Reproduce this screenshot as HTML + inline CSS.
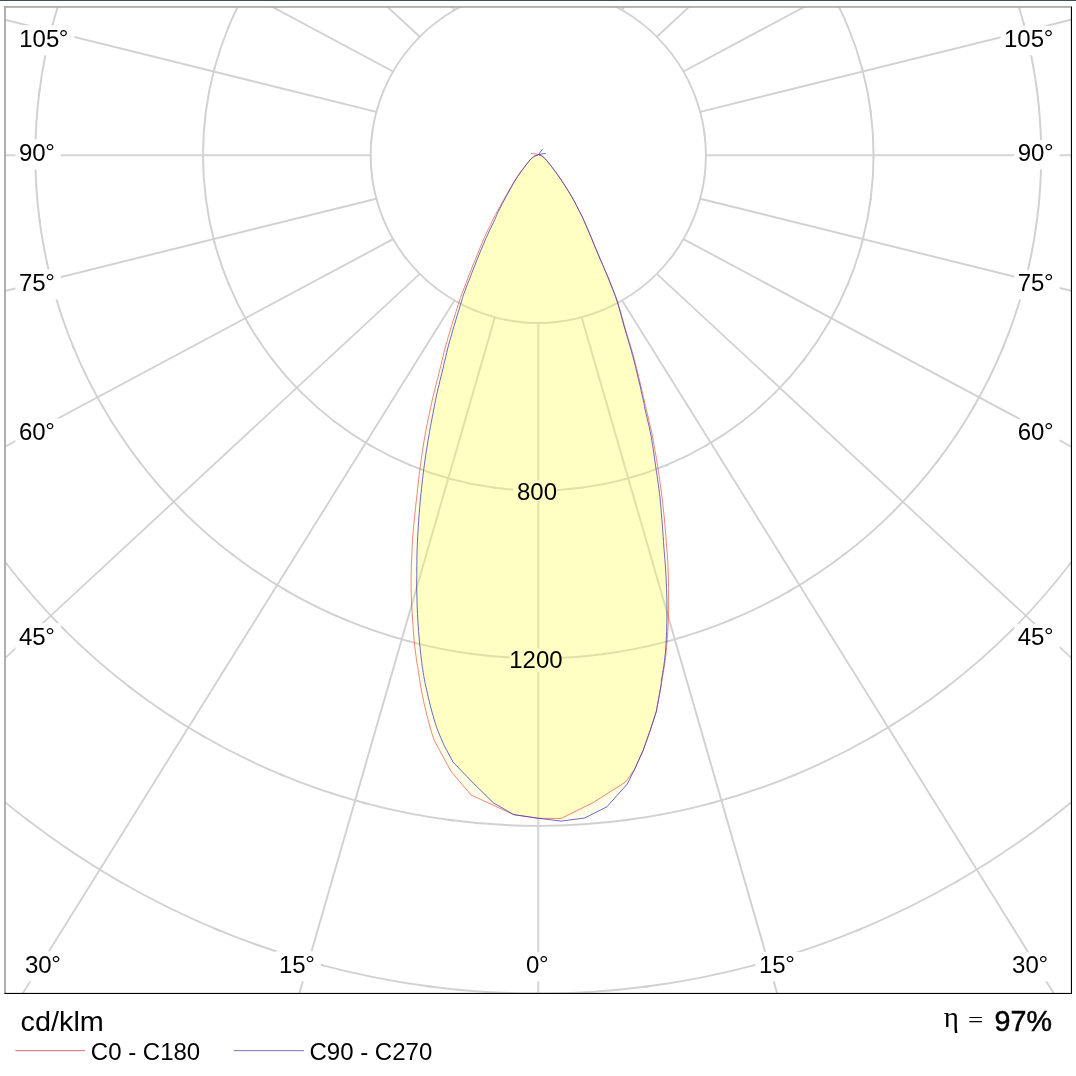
<!DOCTYPE html>
<html lang="en"><head><meta charset="utf-8"><title>Polar diagram</title>
<style>html,body{margin:0;padding:0;background:#fff;}body{width:1076px;height:1076px;overflow:hidden;position:relative;font-family:"Liberation Sans",Arial,sans-serif;}svg{position:absolute;left:0;top:0;display:block;}text{font-family:"Liberation Sans",Arial,sans-serif;fill:#000;}.s{font-family:"Liberation Serif","DejaVu Serif",serif;}</style>
</head><body>
<svg width="1076" height="1076" viewBox="0 0 1076 1076">
<defs><clipPath id="fr"><rect x="5" y="7" width="1066" height="986"/></clipPath></defs>
<rect x="0" y="0" width="1076" height="1076" fill="#fff"/>
<rect x="0" y="0" width="1076" height="1" fill="#3a5252"/>
<g clip-path="url(#fr)" fill="none" stroke="#d1d1d1">
<path d="M705.93,154.63A167.65,167.65 0 0 1 704.41,177.85" stroke-width="1.95"/>
<path d="M704.58,176.52A167.65,167.65 0 0 1 700.04,199.34" stroke-width="1.93"/>
<path d="M700.39,198.04A167.65,167.65 0 0 1 692.91,220.08" stroke-width="1.91"/>
<path d="M693.42,218.84A167.65,167.65 0 0 1 683.13,239.71" stroke-width="1.87"/>
<path d="M683.80,238.54A167.65,167.65 0 0 1 670.88,257.89" stroke-width="1.83"/>
<path d="M671.69,256.83A167.65,167.65 0 0 1 656.35,274.32" stroke-width="1.78"/>
<path d="M657.30,273.37A167.65,167.65 0 0 1 639.81,288.71" stroke-width="1.78"/>
<path d="M640.87,287.90A167.65,167.65 0 0 1 621.52,300.82" stroke-width="1.83"/>
<path d="M622.69,300.15A167.65,167.65 0 0 1 601.82,310.44" stroke-width="1.87"/>
<path d="M603.06,309.93A167.65,167.65 0 0 1 581.02,317.41" stroke-width="1.91"/>
<path d="M582.32,317.06A167.65,167.65 0 0 1 559.50,321.60" stroke-width="1.93"/>
<path d="M560.83,321.43A167.65,167.65 0 0 1 537.61,322.95" stroke-width="1.95"/>
<path d="M538.95,322.95A167.65,167.65 0 0 1 515.73,321.43" stroke-width="1.95"/>
<path d="M517.06,321.60A167.65,167.65 0 0 1 494.24,317.06" stroke-width="1.93"/>
<path d="M495.54,317.41A167.65,167.65 0 0 1 473.50,309.93" stroke-width="1.91"/>
<path d="M474.74,310.44A167.65,167.65 0 0 1 453.87,300.15" stroke-width="1.87"/>
<path d="M455.04,300.82A167.65,167.65 0 0 1 435.69,287.90" stroke-width="1.83"/>
<path d="M436.75,288.71A167.65,167.65 0 0 1 419.26,273.37" stroke-width="1.78"/>
<path d="M420.21,274.32A167.65,167.65 0 0 1 404.87,256.83" stroke-width="1.78"/>
<path d="M405.68,257.89A167.65,167.65 0 0 1 392.76,238.54" stroke-width="1.83"/>
<path d="M393.43,239.71A167.65,167.65 0 0 1 383.14,218.84" stroke-width="1.87"/>
<path d="M383.65,220.08A167.65,167.65 0 0 1 376.17,198.04" stroke-width="1.91"/>
<path d="M376.52,199.34A167.65,167.65 0 0 1 371.98,176.52" stroke-width="1.93"/>
<path d="M372.15,177.85A167.65,167.65 0 0 1 370.63,154.63" stroke-width="1.95"/>
<path d="M370.63,155.97A167.65,167.65 0 0 1 372.15,132.75" stroke-width="1.95"/>
<path d="M371.98,134.08A167.65,167.65 0 0 1 376.52,111.26" stroke-width="1.93"/>
<path d="M376.17,112.56A167.65,167.65 0 0 1 383.65,90.52" stroke-width="1.91"/>
<path d="M383.14,91.76A167.65,167.65 0 0 1 393.43,70.89" stroke-width="1.87"/>
<path d="M392.76,72.06A167.65,167.65 0 0 1 405.68,52.71" stroke-width="1.83"/>
<path d="M404.87,53.77A167.65,167.65 0 0 1 420.21,36.28" stroke-width="1.78"/>
<path d="M419.26,37.23A167.65,167.65 0 0 1 436.75,21.89" stroke-width="1.78"/>
<path d="M435.69,22.70A167.65,167.65 0 0 1 455.04,9.78" stroke-width="1.83"/>
<path d="M453.87,10.45A167.65,167.65 0 0 1 474.74,0.16" stroke-width="1.87"/>
<path d="M601.82,0.16A167.65,167.65 0 0 1 622.69,10.45" stroke-width="1.87"/>
<path d="M621.52,9.78A167.65,167.65 0 0 1 640.87,22.70" stroke-width="1.83"/>
<path d="M639.81,21.89A167.65,167.65 0 0 1 657.30,37.23" stroke-width="1.78"/>
<path d="M656.35,36.28A167.65,167.65 0 0 1 671.69,53.77" stroke-width="1.78"/>
<path d="M670.88,52.71A167.65,167.65 0 0 1 683.80,72.06" stroke-width="1.83"/>
<path d="M683.13,70.89A167.65,167.65 0 0 1 693.42,91.76" stroke-width="1.87"/>
<path d="M692.91,90.52A167.65,167.65 0 0 1 700.39,112.56" stroke-width="1.91"/>
<path d="M700.04,111.26A167.65,167.65 0 0 1 704.58,134.08" stroke-width="1.93"/>
<path d="M704.41,132.75A167.65,167.65 0 0 1 705.93,155.97" stroke-width="1.95"/>
<path d="M873.58,153.96A335.30,335.30 0 0 1 870.53,200.39" stroke-width="1.95"/>
<path d="M870.88,197.74A335.30,335.30 0 0 1 861.81,243.38" stroke-width="1.93"/>
<path d="M862.50,240.79A335.30,335.30 0 0 1 847.54,284.85" stroke-width="1.91"/>
<path d="M848.57,282.37A335.30,335.30 0 0 1 827.99,324.11" stroke-width="1.87"/>
<path d="M829.33,321.79A335.30,335.30 0 0 1 803.47,360.48" stroke-width="1.83"/>
<path d="M805.11,358.35A335.30,335.30 0 0 1 774.42,393.34" stroke-width="1.78"/>
<path d="M776.32,391.44A335.30,335.30 0 0 1 741.33,422.13" stroke-width="1.78"/>
<path d="M743.46,420.49A335.30,335.30 0 0 1 704.77,446.35" stroke-width="1.83"/>
<path d="M707.09,445.01A335.30,335.30 0 0 1 665.35,465.59" stroke-width="1.87"/>
<path d="M667.83,464.56A335.30,335.30 0 0 1 623.77,479.52" stroke-width="1.91"/>
<path d="M626.36,478.83A335.30,335.30 0 0 1 580.72,487.90" stroke-width="1.93"/>
<path d="M583.37,487.55A335.30,335.30 0 0 1 536.94,490.60" stroke-width="1.95"/>
<path d="M539.62,490.60A335.30,335.30 0 0 1 493.19,487.55" stroke-width="1.95"/>
<path d="M495.84,487.90A335.30,335.30 0 0 1 450.20,478.83" stroke-width="1.93"/>
<path d="M452.79,479.52A335.30,335.30 0 0 1 408.73,464.56" stroke-width="1.91"/>
<path d="M411.21,465.59A335.30,335.30 0 0 1 369.47,445.01" stroke-width="1.87"/>
<path d="M371.79,446.35A335.30,335.30 0 0 1 333.10,420.49" stroke-width="1.83"/>
<path d="M335.23,422.13A335.30,335.30 0 0 1 300.24,391.44" stroke-width="1.78"/>
<path d="M302.14,393.34A335.30,335.30 0 0 1 271.45,358.35" stroke-width="1.78"/>
<path d="M273.09,360.48A335.30,335.30 0 0 1 247.23,321.79" stroke-width="1.83"/>
<path d="M248.57,324.11A335.30,335.30 0 0 1 227.99,282.37" stroke-width="1.87"/>
<path d="M229.02,284.85A335.30,335.30 0 0 1 214.06,240.79" stroke-width="1.91"/>
<path d="M214.75,243.38A335.30,335.30 0 0 1 205.68,197.74" stroke-width="1.93"/>
<path d="M206.03,200.39A335.30,335.30 0 0 1 202.98,153.96" stroke-width="1.95"/>
<path d="M202.98,156.64A335.30,335.30 0 0 1 206.03,110.21" stroke-width="1.95"/>
<path d="M205.68,112.86A335.30,335.30 0 0 1 214.75,67.22" stroke-width="1.93"/>
<path d="M214.06,69.81A335.30,335.30 0 0 1 229.02,25.75" stroke-width="1.91"/>
<path d="M227.99,28.23A335.30,335.30 0 0 1 248.57,-13.51" stroke-width="1.87"/>
<path d="M827.99,-13.51A335.30,335.30 0 0 1 848.57,28.23" stroke-width="1.87"/>
<path d="M847.54,25.75A335.30,335.30 0 0 1 862.50,69.81" stroke-width="1.91"/>
<path d="M861.81,67.22A335.30,335.30 0 0 1 870.88,112.86" stroke-width="1.93"/>
<path d="M870.53,110.21A335.30,335.30 0 0 1 873.58,156.64" stroke-width="1.95"/>
<path d="M1041.23,153.29A502.95,502.95 0 0 1 1036.66,222.94" stroke-width="1.95"/>
<path d="M1037.19,218.95A502.95,502.95 0 0 1 1023.57,287.42" stroke-width="1.93"/>
<path d="M1024.61,283.53A502.95,502.95 0 0 1 1002.17,349.63" stroke-width="1.91"/>
<path d="M1003.71,345.91A502.95,502.95 0 0 1 972.84,408.52" stroke-width="1.87"/>
<path d="M974.85,405.03A502.95,502.95 0 0 1 936.07,463.07" stroke-width="1.83"/>
<path d="M938.52,459.88A502.95,502.95 0 0 1 892.49,512.36" stroke-width="1.78"/>
<path d="M895.34,509.51A502.95,502.95 0 0 1 842.86,555.54" stroke-width="1.78"/>
<path d="M846.05,553.09A502.95,502.95 0 0 1 788.01,591.87" stroke-width="1.83"/>
<path d="M791.50,589.86A502.95,502.95 0 0 1 728.89,620.73" stroke-width="1.87"/>
<path d="M732.61,619.19A502.95,502.95 0 0 1 666.51,641.63" stroke-width="1.91"/>
<path d="M670.40,640.59A502.95,502.95 0 0 1 601.93,654.21" stroke-width="1.93"/>
<path d="M605.92,653.68A502.95,502.95 0 0 1 536.27,658.25" stroke-width="1.95"/>
<path d="M540.29,658.25A502.95,502.95 0 0 1 470.64,653.68" stroke-width="1.95"/>
<path d="M474.63,654.21A502.95,502.95 0 0 1 406.16,640.59" stroke-width="1.93"/>
<path d="M410.05,641.63A502.95,502.95 0 0 1 343.95,619.19" stroke-width="1.91"/>
<path d="M347.67,620.73A502.95,502.95 0 0 1 285.06,589.86" stroke-width="1.87"/>
<path d="M288.55,591.87A502.95,502.95 0 0 1 230.51,553.09" stroke-width="1.83"/>
<path d="M233.70,555.54A502.95,502.95 0 0 1 181.22,509.51" stroke-width="1.78"/>
<path d="M184.07,512.36A502.95,502.95 0 0 1 138.04,459.88" stroke-width="1.78"/>
<path d="M140.49,463.07A502.95,502.95 0 0 1 101.71,405.03" stroke-width="1.83"/>
<path d="M103.72,408.52A502.95,502.95 0 0 1 72.85,345.91" stroke-width="1.87"/>
<path d="M74.39,349.63A502.95,502.95 0 0 1 51.95,283.53" stroke-width="1.91"/>
<path d="M52.99,287.42A502.95,502.95 0 0 1 39.37,218.95" stroke-width="1.93"/>
<path d="M39.90,222.94A502.95,502.95 0 0 1 35.33,153.29" stroke-width="1.95"/>
<path d="M35.33,157.31A502.95,502.95 0 0 1 39.90,87.66" stroke-width="1.95"/>
<path d="M39.37,91.65A502.95,502.95 0 0 1 52.99,23.18" stroke-width="1.93"/>
<path d="M51.95,27.07A502.95,502.95 0 0 1 74.39,-39.03" stroke-width="1.91"/>
<path d="M1002.17,-39.03A502.95,502.95 0 0 1 1024.61,27.07" stroke-width="1.91"/>
<path d="M1023.57,23.18A502.95,502.95 0 0 1 1037.19,91.65" stroke-width="1.93"/>
<path d="M1036.66,87.66A502.95,502.95 0 0 1 1041.23,157.31" stroke-width="1.95"/>
<path d="M1120.37,488.27A670.60,670.60 0 0 1 1068.67,565.66" stroke-width="1.83"/>
<path d="M1071.93,561.40A670.60,670.60 0 0 1 1010.57,631.38" stroke-width="1.78"/>
<path d="M1014.36,627.59A670.60,670.60 0 0 1 944.38,688.95" stroke-width="1.78"/>
<path d="M948.64,685.69A670.60,670.60 0 0 1 871.25,737.39" stroke-width="1.83"/>
<path d="M875.90,734.71A670.60,670.60 0 0 1 792.43,775.88" stroke-width="1.87"/>
<path d="M797.38,773.82A670.60,670.60 0 0 1 709.25,803.74" stroke-width="1.91"/>
<path d="M714.43,802.35A670.60,670.60 0 0 1 623.15,820.51" stroke-width="1.93"/>
<path d="M628.47,819.81A670.60,670.60 0 0 1 535.60,825.89" stroke-width="1.95"/>
<path d="M540.96,825.89A670.60,670.60 0 0 1 448.09,819.81" stroke-width="1.95"/>
<path d="M453.41,820.51A670.60,670.60 0 0 1 362.13,802.35" stroke-width="1.93"/>
<path d="M367.31,803.74A670.60,670.60 0 0 1 279.18,773.82" stroke-width="1.91"/>
<path d="M284.13,775.88A670.60,670.60 0 0 1 200.66,734.71" stroke-width="1.87"/>
<path d="M205.31,737.39A670.60,670.60 0 0 1 127.92,685.69" stroke-width="1.83"/>
<path d="M132.18,688.95A670.60,670.60 0 0 1 62.20,627.59" stroke-width="1.78"/>
<path d="M65.99,631.38A670.60,670.60 0 0 1 4.63,561.40" stroke-width="1.78"/>
<path d="M7.89,565.66A670.60,670.60 0 0 1 -43.81,488.27" stroke-width="1.83"/>
<path d="M1133.38,745.66A838.25,838.25 0 0 1 1045.91,822.36" stroke-width="1.78"/>
<path d="M1051.23,818.28A838.25,838.25 0 0 1 954.50,882.92" stroke-width="1.83"/>
<path d="M960.31,879.56A838.25,838.25 0 0 1 855.96,931.02" stroke-width="1.87"/>
<path d="M862.16,928.45A838.25,838.25 0 0 1 751.99,965.85" stroke-width="1.91"/>
<path d="M758.47,964.11A838.25,838.25 0 0 1 644.37,986.81" stroke-width="1.93"/>
<path d="M651.02,985.93A838.25,838.25 0 0 1 534.93,993.54" stroke-width="1.95"/>
<path d="M541.63,993.54A838.25,838.25 0 0 1 425.54,985.93" stroke-width="1.95"/>
<path d="M432.19,986.81A838.25,838.25 0 0 1 318.09,964.11" stroke-width="1.93"/>
<path d="M324.57,965.85A838.25,838.25 0 0 1 214.40,928.45" stroke-width="1.91"/>
<path d="M220.60,931.02A838.25,838.25 0 0 1 116.25,879.56" stroke-width="1.87"/>
<path d="M122.06,882.92A838.25,838.25 0 0 1 25.33,818.28" stroke-width="1.83"/>
<path d="M30.65,822.36A838.25,838.25 0 0 1 -56.82,745.66" stroke-width="1.78"/>
<line x1="538.28" y1="322.95" x2="538.28" y2="1620.19" stroke-width="2.00" stroke="#d5d5d5"/>
<line x1="581.67" y1="317.24" x2="944.02" y2="1570.28" stroke-width="1.92"/>
<line x1="622.11" y1="300.49" x2="1322.11" y2="1423.93" stroke-width="1.84"/>
<line x1="656.83" y1="273.85" x2="1646.78" y2="1191.13" stroke-width="1.77"/>
<line x1="683.47" y1="239.13" x2="1895.90" y2="887.75" stroke-width="1.86"/>
<line x1="700.22" y1="198.69" x2="2052.51" y2="534.44" stroke-width="1.93"/>
<line x1="705.93" y1="155.30" x2="2105.93" y2="155.30" stroke-width="2.00" stroke="#d5d5d5"/>
<line x1="700.22" y1="111.91" x2="2052.51" y2="-223.84" stroke-width="1.93"/>
<line x1="683.47" y1="71.48" x2="1895.90" y2="-577.14" stroke-width="1.86"/>
<line x1="656.83" y1="36.75" x2="1646.78" y2="-880.53" stroke-width="1.77"/>
<line x1="622.11" y1="10.11" x2="1322.11" y2="-1113.33" stroke-width="1.84"/>
<line x1="454.45" y1="10.11" x2="-245.55" y2="-1113.33" stroke-width="1.84"/>
<line x1="419.73" y1="36.75" x2="-570.22" y2="-880.53" stroke-width="1.77"/>
<line x1="393.09" y1="71.47" x2="-819.34" y2="-577.15" stroke-width="1.86"/>
<line x1="376.34" y1="111.91" x2="-975.95" y2="-223.84" stroke-width="1.93"/>
<line x1="370.63" y1="155.30" x2="-1029.37" y2="155.30" stroke-width="2.00" stroke="#d5d5d5"/>
<line x1="376.34" y1="198.69" x2="-975.95" y2="534.44" stroke-width="1.93"/>
<line x1="393.09" y1="239.13" x2="-819.34" y2="887.75" stroke-width="1.86"/>
<line x1="419.73" y1="273.85" x2="-570.22" y2="1191.13" stroke-width="1.77"/>
<line x1="454.45" y1="300.49" x2="-245.55" y2="1423.93" stroke-width="1.84"/>
<line x1="494.89" y1="317.24" x2="132.54" y2="1570.28" stroke-width="1.92"/>
</g>
<g fill="#fff">
<rect x="15.8" y="25.2" width="58.6" height="30.2"/>
<rect x="15.5" y="139.3" width="45.3" height="30.2"/>
<rect x="15.5" y="269.3" width="45.3" height="30.2"/>
<rect x="15.5" y="418.4" width="45.3" height="30.2"/>
<rect x="15.5" y="623.2" width="45.3" height="30.2"/>
<rect x="21.6" y="951.2" width="45.3" height="30.2"/>
<rect x="275.5" y="951.2" width="45.3" height="30.2"/>
<rect x="522.7" y="951.9" width="31.9" height="29.5"/>
<rect x="755.5" y="951.9" width="45.3" height="29.5"/>
<rect x="1008.7" y="951.9" width="45.3" height="29.5"/>
<rect x="1000.6" y="25.9" width="58.6" height="29.5"/>
<rect x="1014.3" y="140.0" width="45.3" height="29.5"/>
<rect x="1014.3" y="270.0" width="45.3" height="29.5"/>
<rect x="1014.3" y="419.1" width="45.3" height="29.5"/>
<rect x="1014.3" y="623.9" width="45.3" height="29.5"/>
<rect x="513.6" y="480.6" width="42.9" height="20.6"/>
<rect x="509.6" y="648.4" width="52.4" height="23.2"/>
</g>
<clipPath id="cb"><path d="M538.5,154.7 L537.9,154.9 L537.1,155.2 L536.1,155.5 L535.0,156.0 L533.8,156.6 L532.7,157.4 L531.6,158.4 L530.4,159.6 L529.3,161.0 L528.0,162.4 L526.7,164.1 L525.4,165.8 L524.0,167.7 L522.5,169.7 L520.9,171.8 L519.3,174.1 L517.7,176.4 L516.2,178.8 L514.7,181.3 L513.2,183.8 L511.7,186.5 L510.2,189.2 L508.7,191.9 L507.2,194.6 L505.7,197.4 L504.1,200.4 L502.5,203.4 L501.0,206.3 L499.6,209.0 L498.4,211.3 L497.5,213.1 L496.9,214.5 L496.5,215.6 L496.0,216.8 L495.4,218.2 L494.6,220.0 L493.5,222.4 L492.2,225.1 L490.8,228.0 L489.3,231.0 L487.9,234.1 L486.5,237.1 L485.2,240.0 L484.0,243.0 L482.7,245.9 L481.5,248.9 L480.2,251.9 L479.0,254.9 L477.8,257.9 L476.5,261.0 L475.3,264.1 L474.1,267.2 L472.8,270.3 L471.6,273.5 L470.3,276.8 L469.0,280.3 L467.6,283.8 L466.3,287.2 L465.2,290.2 L464.2,292.9 L463.5,294.9 L463.0,296.3 L462.7,297.4 L462.4,298.6 L461.9,300.0 L461.3,302.1 L460.4,304.9 L459.5,308.1 L458.4,311.7 L457.2,315.4 L456.1,319.2 L455.0,322.9 L453.9,326.5 L452.8,330.2 L451.8,333.8 L450.7,337.6 L449.6,341.3 L448.6,345.1 L447.6,348.9 L446.7,352.8 L445.8,356.7 L444.8,360.7 L443.9,364.6 L443.0,368.5 L442.0,372.5 L441.0,376.5 L440.0,380.5 L439.1,384.5 L438.1,388.3 L437.3,391.9 L436.6,395.1 L436.0,398.0 L435.4,400.8 L434.8,403.6 L434.3,406.6 L433.6,410.0 L432.9,413.8 L432.1,417.9 L431.3,422.3 L430.4,426.8 L429.6,431.3 L428.8,436.0 L428.0,440.8 L427.2,445.8 L426.4,450.9 L425.6,456.0 L424.9,461.0 L424.2,465.9 L423.6,470.6 L423.0,475.2 L422.5,479.7 L422.0,484.2 L421.5,488.7 L421.0,493.3 L420.5,498.0 L420.1,502.8 L419.7,507.6 L419.3,512.4 L418.9,517.1 L418.6,521.9 L418.3,526.7 L418.0,531.5 L417.7,536.3 L417.5,541.1 L417.3,545.6 L417.1,550.0 L417.0,554.1 L416.9,558.0 L416.9,561.8 L416.8,565.4 L416.8,569.0 L416.8,572.5 L416.8,575.8 L416.7,579.0 L416.7,582.0 L416.7,585.1 L416.7,588.4 L416.8,592.0 L416.9,596.0 L417.0,600.2 L417.1,604.6 L417.3,609.1 L417.5,613.6 L417.7,618.0 L418.0,622.4 L418.3,626.9 L418.6,631.5 L419.0,635.9 L419.3,640.1 L419.7,644.1 L420.1,647.8 L420.4,651.2 L420.8,654.5 L421.1,657.6 L421.5,660.6 L421.9,663.6 L422.3,666.6 L422.8,669.6 L423.2,672.6 L423.7,675.4 L424.1,677.9 L424.5,680.0 L424.8,681.5 L424.9,682.4 L425.1,683.1 L425.3,683.8 L425.5,685.0 L426.0,686.9 L426.6,689.7 L427.4,693.2 L428.3,697.2 L429.3,701.3 L430.2,705.3 L431.2,709.0 L432.1,712.4 L433.1,715.8 L434.0,719.1 L435.0,722.3 L436.0,725.4 L437.1,728.5 L438.3,731.7 L439.6,735.0 L441.0,738.2 L442.3,741.2 L443.4,743.7 L444.2,745.5 L453.0,762.0 L473.5,783.4 L493.5,802.9 L513.6,814.6 L538.3,818.3 L561.2,821.1 L584.6,818.0 L606.9,806.8 L627.3,784.0 L634.8,768.9 L643.3,750.0 L650.4,729.8 L656.3,711.6 L656.8,708.7 L657.6,704.5 L658.5,699.7 L659.4,694.7 L660.2,690.3 L660.8,686.9 L661.1,684.8 L661.2,683.6 L661.3,682.9 L661.3,682.3 L661.3,681.5 L661.5,680.0 L661.8,677.9 L662.3,675.4 L662.7,672.6 L663.2,669.6 L663.7,666.6 L664.1,663.6 L664.5,660.6 L664.8,657.6 L665.2,654.5 L665.5,651.2 L665.7,647.8 L666.0,644.1 L666.2,640.1 L666.4,635.9 L666.6,631.5 L666.7,627.0 L666.8,622.5 L666.9,618.1 L666.9,613.8 L667.0,609.4 L666.9,605.0 L666.9,600.7 L666.8,596.3 L666.7,592.0 L666.5,587.5 L666.3,583.0 L666.1,578.4 L665.9,573.9 L665.6,569.8 L665.4,566.0 L665.2,562.9 L665.0,560.4 L664.8,558.1 L664.6,555.9 L664.4,553.3 L664.1,550.0 L663.8,546.0 L663.5,541.5 L663.2,536.7 L662.8,531.8 L662.5,526.8 L662.1,521.9 L661.7,517.1 L661.3,512.4 L660.9,507.6 L660.5,502.8 L660.0,498.0 L659.5,493.3 L658.9,488.7 L658.3,484.2 L657.7,479.7 L657.0,475.2 L656.3,470.6 L655.6,465.9 L654.9,461.0 L654.2,456.0 L653.5,450.9 L652.7,445.8 L651.9,440.8 L651.1,436.0 L650.1,431.2 L649.1,426.3 L647.9,421.5 L646.9,417.1 L645.9,413.2 L645.2,410.0 L644.8,408.0 L644.6,407.0 L644.5,406.6 L644.5,406.2 L644.4,405.3 L644.0,403.6 L643.4,400.9 L642.7,397.5 L641.8,393.8 L640.9,389.7 L640.0,385.6 L639.0,381.5 L638.0,377.4 L637.0,373.1 L636.0,368.7 L634.9,364.3 L633.8,359.9 L632.6,355.5 L631.4,351.2 L630.2,346.9 L628.9,342.5 L627.6,338.2 L626.3,333.8 L625.0,329.4 L623.7,324.9 L622.5,320.2 L621.2,315.5 L619.9,310.9 L618.6,306.4 L617.3,302.1 L615.9,297.9 L614.4,293.8 L612.9,289.8 L611.4,286.1 L610.1,282.8 L609.0,280.0 L608.2,278.0 L607.8,276.8 L607.4,275.9 L607.1,275.1 L606.6,274.0 L605.9,272.3 L604.9,270.0 L603.8,267.4 L602.6,264.6 L601.2,261.4 L599.7,257.9 L598.1,254.1 L596.2,249.6 L594.0,244.3 L591.7,238.7 L589.4,233.2 L587.3,228.3 L585.6,224.3 L584.4,221.6 L583.6,219.7 L583.0,218.4 L582.5,217.3 L581.9,216.0 L580.9,214.1 L579.6,211.6 L578.1,208.7 L576.5,205.6 L574.9,202.4 L573.2,199.4 L571.6,196.5 L570.0,193.8 L568.5,191.3 L566.9,188.8 L565.4,186.3 L563.8,183.9 L562.3,181.6 L560.8,179.3 L559.2,177.1 L557.7,174.9 L556.2,172.7 L554.6,170.6 L553.1,168.6 L551.5,166.5 L549.9,164.4 L548.2,162.4 L546.6,160.4 L545.1,158.8 L543.8,157.4 L542.6,156.4 L541.5,155.8 L540.6,155.3 L539.7,155.1 L539.0,154.9 L538.5,154.7Z"/></clipPath>
<path d="M538.5,154.7 L537.9,154.9 L537.0,155.2 L536.0,155.5 L534.9,156.0 L533.7,156.6 L532.6,157.4 L531.5,158.4 L530.3,159.6 L529.1,161.0 L527.9,162.4 L526.6,164.1 L525.2,165.8 L523.8,167.7 L522.2,169.7 L520.7,171.8 L519.1,174.1 L517.5,176.4 L515.9,178.8 L514.4,181.3 L512.8,183.8 L511.2,186.5 L509.7,189.2 L508.1,191.9 L506.6,194.6 L505.0,197.4 L503.3,200.4 L501.7,203.4 L500.0,206.3 L498.6,209.0 L497.3,211.3 L496.3,213.1 L495.6,214.5 L495.0,215.6 L494.4,216.8 L493.7,218.2 L492.8,220.0 L491.6,222.4 L490.3,225.1 L488.9,228.0 L487.4,231.0 L486.0,234.1 L484.6,237.1 L483.3,240.0 L482.1,243.0 L480.9,245.9 L479.6,248.9 L478.4,251.9 L477.2,254.9 L476.0,257.9 L474.7,261.0 L473.4,264.1 L472.2,267.2 L470.9,270.3 L469.7,273.5 L468.4,276.8 L467.1,280.3 L465.7,283.8 L464.5,287.2 L463.3,290.2 L462.3,292.9 L461.5,294.9 L461.0,296.3 L460.6,297.4 L460.2,298.6 L459.7,300.0 L459.0,302.1 L458.1,304.9 L457.1,308.1 L456.0,311.7 L454.8,315.4 L453.6,319.2 L452.5,322.9 L451.4,326.5 L450.3,330.2 L449.2,333.8 L448.0,337.6 L447.0,341.3 L445.9,345.1 L444.9,348.9 L443.9,352.8 L443.0,356.7 L442.0,360.7 L441.1,364.6 L440.1,368.5 L439.1,372.5 L438.1,376.5 L437.0,380.5 L436.0,384.5 L435.1,388.3 L434.2,391.9 L433.4,395.1 L432.7,398.0 L432.1,400.8 L431.5,403.6 L430.8,406.6 L430.1,410.0 L429.3,413.8 L428.4,417.9 L427.5,422.3 L426.6,426.8 L425.7,431.3 L424.9,436.0 L424.1,440.8 L423.3,445.8 L422.5,450.9 L421.7,456.0 L421.0,461.0 L420.3,465.9 L419.7,470.6 L419.1,475.2 L418.6,479.7 L418.1,484.2 L417.6,488.7 L417.1,493.3 L416.6,498.1 L416.0,503.1 L415.5,508.2 L415.0,513.1 L414.5,517.7 L414.1,521.9 L413.7,525.4 L413.5,528.2 L413.2,530.7 L413.0,533.3 L412.7,536.3 L412.5,540.0 L412.3,544.7 L412.0,550.2 L411.8,556.2 L411.5,562.1 L411.3,567.7 L411.2,572.5 L411.1,576.4 L411.1,579.7 L411.0,582.7 L411.1,585.5 L411.1,588.5 L411.2,592.0 L411.3,596.0 L411.5,600.2 L411.7,604.6 L412.0,609.1 L412.2,613.6 L412.5,618.0 L412.8,622.4 L413.1,626.9 L413.4,631.5 L413.8,635.9 L414.1,640.1 L414.5,644.1 L414.9,647.9 L415.4,651.6 L415.9,655.1 L416.3,658.3 L416.7,661.2 L417.1,663.6 L417.3,665.3 L417.5,666.2 L417.6,666.7 L417.7,667.3 L417.9,668.3 L418.2,670.0 L418.6,672.6 L419.1,675.9 L419.6,679.5 L420.2,683.3 L420.9,687.2 L421.5,690.8 L422.2,694.3 L422.9,697.8 L423.6,701.3 L424.4,704.8 L425.2,708.2 L426.0,711.6 L426.8,715.1 L427.8,718.6 L428.7,722.1 L429.6,725.4 L430.4,728.5 L431.2,731.2 L431.9,733.5 L432.6,735.5 L433.2,737.3 L433.7,738.8 L434.2,740.0 L434.5,740.9 L450.7,770.8 L470.9,794.9 L513.6,814.6 L538.3,818.3 L561.2,818.5 L593.5,802.4 L625.7,781.9 L634.8,768.9 L643.3,750.0 L650.4,729.8 L656.3,711.6 L656.8,708.7 L657.6,704.5 L658.5,699.7 L659.4,694.7 L660.2,690.3 L660.8,686.9 L661.2,684.8 L661.4,683.6 L661.6,682.9 L661.7,682.3 L661.8,681.5 L662.1,680.0 L662.5,677.9 L662.9,675.4 L663.3,672.6 L663.8,669.6 L664.3,666.6 L664.7,663.6 L665.1,660.6 L665.5,657.6 L665.9,654.5 L666.2,651.2 L666.6,647.8 L666.9,644.1 L667.2,640.1 L667.5,635.9 L667.8,631.5 L668.0,627.0 L668.2,622.5 L668.4,618.1 L668.5,613.8 L668.6,609.4 L668.6,605.0 L668.6,600.7 L668.6,596.3 L668.6,592.0 L668.6,587.5 L668.5,583.0 L668.4,578.4 L668.3,573.9 L668.1,569.8 L668.0,566.0 L667.9,562.9 L667.7,560.4 L667.5,558.1 L667.4,555.9 L667.2,553.3 L666.9,550.0 L666.6,546.0 L666.3,541.5 L665.9,536.7 L665.5,531.8 L665.1,526.8 L664.7,521.9 L664.2,517.1 L663.7,512.4 L663.2,507.6 L662.7,502.8 L662.1,498.0 L661.5,493.3 L660.9,488.7 L660.3,484.2 L659.7,479.7 L659.0,475.2 L658.3,470.6 L657.6,465.9 L656.8,461.0 L656.0,456.0 L655.1,450.9 L654.2,445.8 L653.3,440.8 L652.4,436.0 L651.4,431.2 L650.3,426.3 L649.2,421.5 L648.2,417.1 L647.2,413.2 L646.5,410.0 L646.0,408.0 L645.8,407.0 L645.7,406.6 L645.6,406.2 L645.4,405.3 L645.0,403.6 L644.4,400.9 L643.6,397.5 L642.7,393.8 L641.8,389.7 L640.8,385.6 L639.8,381.5 L638.8,377.4 L637.8,373.1 L636.7,368.7 L635.6,364.3 L634.5,359.9 L633.3,355.5 L632.1,351.2 L630.8,346.9 L629.5,342.5 L628.1,338.2 L626.8,333.8 L625.5,329.4 L624.2,324.9 L622.9,320.2 L621.6,315.5 L620.4,310.9 L619.0,306.4 L617.7,302.1 L616.3,297.9 L614.7,293.8 L613.2,289.8 L611.7,286.1 L610.3,282.8 L609.2,280.0 L608.4,278.0 L607.9,276.8 L607.5,275.9 L607.1,275.1 L606.7,274.0 L605.9,272.3 L604.9,270.0 L603.8,267.4 L602.6,264.6 L601.2,261.4 L599.7,257.9 L598.1,254.1 L596.2,249.6 L594.0,244.3 L591.7,238.7 L589.4,233.2 L587.3,228.3 L585.6,224.3 L584.4,221.6 L583.6,219.7 L583.0,218.4 L582.5,217.3 L581.9,216.0 L580.9,214.1 L579.6,211.6 L578.1,208.7 L576.5,205.6 L574.9,202.4 L573.2,199.4 L571.6,196.5 L570.0,193.8 L568.5,191.3 L566.9,188.8 L565.4,186.3 L563.8,183.9 L562.3,181.6 L560.8,179.3 L559.2,177.1 L557.7,174.9 L556.2,172.7 L554.6,170.6 L553.1,168.6 L551.5,166.5 L549.9,164.4 L548.2,162.4 L546.6,160.4 L545.1,158.8 L543.8,157.4 L542.6,156.4 L541.5,155.8 L540.6,155.3 L539.7,155.1 L539.0,154.9 L538.5,154.7Z" fill="rgba(255,255,97,0.1456)"/>
<path d="M538.5,154.7 L537.9,154.9 L537.1,155.2 L536.1,155.5 L535.0,156.0 L533.8,156.6 L532.7,157.4 L531.6,158.4 L530.4,159.6 L529.3,161.0 L528.0,162.4 L526.7,164.1 L525.4,165.8 L524.0,167.7 L522.5,169.7 L520.9,171.8 L519.3,174.1 L517.7,176.4 L516.2,178.8 L514.7,181.3 L513.2,183.8 L511.7,186.5 L510.2,189.2 L508.7,191.9 L507.2,194.6 L505.7,197.4 L504.1,200.4 L502.5,203.4 L501.0,206.3 L499.6,209.0 L498.4,211.3 L497.5,213.1 L496.9,214.5 L496.5,215.6 L496.0,216.8 L495.4,218.2 L494.6,220.0 L493.5,222.4 L492.2,225.1 L490.8,228.0 L489.3,231.0 L487.9,234.1 L486.5,237.1 L485.2,240.0 L484.0,243.0 L482.7,245.9 L481.5,248.9 L480.2,251.9 L479.0,254.9 L477.8,257.9 L476.5,261.0 L475.3,264.1 L474.1,267.2 L472.8,270.3 L471.6,273.5 L470.3,276.8 L469.0,280.3 L467.6,283.8 L466.3,287.2 L465.2,290.2 L464.2,292.9 L463.5,294.9 L463.0,296.3 L462.7,297.4 L462.4,298.6 L461.9,300.0 L461.3,302.1 L460.4,304.9 L459.5,308.1 L458.4,311.7 L457.2,315.4 L456.1,319.2 L455.0,322.9 L453.9,326.5 L452.8,330.2 L451.8,333.8 L450.7,337.6 L449.6,341.3 L448.6,345.1 L447.6,348.9 L446.7,352.8 L445.8,356.7 L444.8,360.7 L443.9,364.6 L443.0,368.5 L442.0,372.5 L441.0,376.5 L440.0,380.5 L439.1,384.5 L438.1,388.3 L437.3,391.9 L436.6,395.1 L436.0,398.0 L435.4,400.8 L434.8,403.6 L434.3,406.6 L433.6,410.0 L432.9,413.8 L432.1,417.9 L431.3,422.3 L430.4,426.8 L429.6,431.3 L428.8,436.0 L428.0,440.8 L427.2,445.8 L426.4,450.9 L425.6,456.0 L424.9,461.0 L424.2,465.9 L423.6,470.6 L423.0,475.2 L422.5,479.7 L422.0,484.2 L421.5,488.7 L421.0,493.3 L420.5,498.0 L420.1,502.8 L419.7,507.6 L419.3,512.4 L418.9,517.1 L418.6,521.9 L418.3,526.7 L418.0,531.5 L417.7,536.3 L417.5,541.1 L417.3,545.6 L417.1,550.0 L417.0,554.1 L416.9,558.0 L416.9,561.8 L416.8,565.4 L416.8,569.0 L416.8,572.5 L416.8,575.8 L416.7,579.0 L416.7,582.0 L416.7,585.1 L416.7,588.4 L416.8,592.0 L416.9,596.0 L417.0,600.2 L417.1,604.6 L417.3,609.1 L417.5,613.6 L417.7,618.0 L418.0,622.4 L418.3,626.9 L418.6,631.5 L419.0,635.9 L419.3,640.1 L419.7,644.1 L420.1,647.8 L420.4,651.2 L420.8,654.5 L421.1,657.6 L421.5,660.6 L421.9,663.6 L422.3,666.6 L422.8,669.6 L423.2,672.6 L423.7,675.4 L424.1,677.9 L424.5,680.0 L424.8,681.5 L424.9,682.4 L425.1,683.1 L425.3,683.8 L425.5,685.0 L426.0,686.9 L426.6,689.7 L427.4,693.2 L428.3,697.2 L429.3,701.3 L430.2,705.3 L431.2,709.0 L432.1,712.4 L433.1,715.8 L434.0,719.1 L435.0,722.3 L436.0,725.4 L437.1,728.5 L438.3,731.7 L439.6,735.0 L441.0,738.2 L442.3,741.2 L443.4,743.7 L444.2,745.5 L453.0,762.0 L473.5,783.4 L493.5,802.9 L513.6,814.6 L538.3,818.3 L561.2,821.1 L584.6,818.0 L606.9,806.8 L627.3,784.0 L634.8,768.9 L643.3,750.0 L650.4,729.8 L656.3,711.6 L656.8,708.7 L657.6,704.5 L658.5,699.7 L659.4,694.7 L660.2,690.3 L660.8,686.9 L661.1,684.8 L661.2,683.6 L661.3,682.9 L661.3,682.3 L661.3,681.5 L661.5,680.0 L661.8,677.9 L662.3,675.4 L662.7,672.6 L663.2,669.6 L663.7,666.6 L664.1,663.6 L664.5,660.6 L664.8,657.6 L665.2,654.5 L665.5,651.2 L665.7,647.8 L666.0,644.1 L666.2,640.1 L666.4,635.9 L666.6,631.5 L666.7,627.0 L666.8,622.5 L666.9,618.1 L666.9,613.8 L667.0,609.4 L666.9,605.0 L666.9,600.7 L666.8,596.3 L666.7,592.0 L666.5,587.5 L666.3,583.0 L666.1,578.4 L665.9,573.9 L665.6,569.8 L665.4,566.0 L665.2,562.9 L665.0,560.4 L664.8,558.1 L664.6,555.9 L664.4,553.3 L664.1,550.0 L663.8,546.0 L663.5,541.5 L663.2,536.7 L662.8,531.8 L662.5,526.8 L662.1,521.9 L661.7,517.1 L661.3,512.4 L660.9,507.6 L660.5,502.8 L660.0,498.0 L659.5,493.3 L658.9,488.7 L658.3,484.2 L657.7,479.7 L657.0,475.2 L656.3,470.6 L655.6,465.9 L654.9,461.0 L654.2,456.0 L653.5,450.9 L652.7,445.8 L651.9,440.8 L651.1,436.0 L650.1,431.2 L649.1,426.3 L647.9,421.5 L646.9,417.1 L645.9,413.2 L645.2,410.0 L644.8,408.0 L644.6,407.0 L644.5,406.6 L644.5,406.2 L644.4,405.3 L644.0,403.6 L643.4,400.9 L642.7,397.5 L641.8,393.8 L640.9,389.7 L640.0,385.6 L639.0,381.5 L638.0,377.4 L637.0,373.1 L636.0,368.7 L634.9,364.3 L633.8,359.9 L632.6,355.5 L631.4,351.2 L630.2,346.9 L628.9,342.5 L627.6,338.2 L626.3,333.8 L625.0,329.4 L623.7,324.9 L622.5,320.2 L621.2,315.5 L619.9,310.9 L618.6,306.4 L617.3,302.1 L615.9,297.9 L614.4,293.8 L612.9,289.8 L611.4,286.1 L610.1,282.8 L609.0,280.0 L608.2,278.0 L607.8,276.8 L607.4,275.9 L607.1,275.1 L606.6,274.0 L605.9,272.3 L604.9,270.0 L603.8,267.4 L602.6,264.6 L601.2,261.4 L599.7,257.9 L598.1,254.1 L596.2,249.6 L594.0,244.3 L591.7,238.7 L589.4,233.2 L587.3,228.3 L585.6,224.3 L584.4,221.6 L583.6,219.7 L583.0,218.4 L582.5,217.3 L581.9,216.0 L580.9,214.1 L579.6,211.6 L578.1,208.7 L576.5,205.6 L574.9,202.4 L573.2,199.4 L571.6,196.5 L570.0,193.8 L568.5,191.3 L566.9,188.8 L565.4,186.3 L563.8,183.9 L562.3,181.6 L560.8,179.3 L559.2,177.1 L557.7,174.9 L556.2,172.7 L554.6,170.6 L553.1,168.6 L551.5,166.5 L549.9,164.4 L548.2,162.4 L546.6,160.4 L545.1,158.8 L543.8,157.4 L542.6,156.4 L541.5,155.8 L540.6,155.3 L539.7,155.1 L539.0,154.9 L538.5,154.7Z" fill="rgba(255,255,97,0.1456)"/>
<path d="M538.5,154.7 L537.9,154.9 L537.0,155.2 L536.0,155.5 L534.9,156.0 L533.7,156.6 L532.6,157.4 L531.5,158.4 L530.3,159.6 L529.1,161.0 L527.9,162.4 L526.6,164.1 L525.2,165.8 L523.8,167.7 L522.2,169.7 L520.7,171.8 L519.1,174.1 L517.5,176.4 L515.9,178.8 L514.4,181.3 L512.8,183.8 L511.2,186.5 L509.7,189.2 L508.1,191.9 L506.6,194.6 L505.0,197.4 L503.3,200.4 L501.7,203.4 L500.0,206.3 L498.6,209.0 L497.3,211.3 L496.3,213.1 L495.6,214.5 L495.0,215.6 L494.4,216.8 L493.7,218.2 L492.8,220.0 L491.6,222.4 L490.3,225.1 L488.9,228.0 L487.4,231.0 L486.0,234.1 L484.6,237.1 L483.3,240.0 L482.1,243.0 L480.9,245.9 L479.6,248.9 L478.4,251.9 L477.2,254.9 L476.0,257.9 L474.7,261.0 L473.4,264.1 L472.2,267.2 L470.9,270.3 L469.7,273.5 L468.4,276.8 L467.1,280.3 L465.7,283.8 L464.5,287.2 L463.3,290.2 L462.3,292.9 L461.5,294.9 L461.0,296.3 L460.6,297.4 L460.2,298.6 L459.7,300.0 L459.0,302.1 L458.1,304.9 L457.1,308.1 L456.0,311.7 L454.8,315.4 L453.6,319.2 L452.5,322.9 L451.4,326.5 L450.3,330.2 L449.2,333.8 L448.0,337.6 L447.0,341.3 L445.9,345.1 L444.9,348.9 L443.9,352.8 L443.0,356.7 L442.0,360.7 L441.1,364.6 L440.1,368.5 L439.1,372.5 L438.1,376.5 L437.0,380.5 L436.0,384.5 L435.1,388.3 L434.2,391.9 L433.4,395.1 L432.7,398.0 L432.1,400.8 L431.5,403.6 L430.8,406.6 L430.1,410.0 L429.3,413.8 L428.4,417.9 L427.5,422.3 L426.6,426.8 L425.7,431.3 L424.9,436.0 L424.1,440.8 L423.3,445.8 L422.5,450.9 L421.7,456.0 L421.0,461.0 L420.3,465.9 L419.7,470.6 L419.1,475.2 L418.6,479.7 L418.1,484.2 L417.6,488.7 L417.1,493.3 L416.6,498.1 L416.0,503.1 L415.5,508.2 L415.0,513.1 L414.5,517.7 L414.1,521.9 L413.7,525.4 L413.5,528.2 L413.2,530.7 L413.0,533.3 L412.7,536.3 L412.5,540.0 L412.3,544.7 L412.0,550.2 L411.8,556.2 L411.5,562.1 L411.3,567.7 L411.2,572.5 L411.1,576.4 L411.1,579.7 L411.0,582.7 L411.1,585.5 L411.1,588.5 L411.2,592.0 L411.3,596.0 L411.5,600.2 L411.7,604.6 L412.0,609.1 L412.2,613.6 L412.5,618.0 L412.8,622.4 L413.1,626.9 L413.4,631.5 L413.8,635.9 L414.1,640.1 L414.5,644.1 L414.9,647.9 L415.4,651.6 L415.9,655.1 L416.3,658.3 L416.7,661.2 L417.1,663.6 L417.3,665.3 L417.5,666.2 L417.6,666.7 L417.7,667.3 L417.9,668.3 L418.2,670.0 L418.6,672.6 L419.1,675.9 L419.6,679.5 L420.2,683.3 L420.9,687.2 L421.5,690.8 L422.2,694.3 L422.9,697.8 L423.6,701.3 L424.4,704.8 L425.2,708.2 L426.0,711.6 L426.8,715.1 L427.8,718.6 L428.7,722.1 L429.6,725.4 L430.4,728.5 L431.2,731.2 L431.9,733.5 L432.6,735.5 L433.2,737.3 L433.7,738.8 L434.2,740.0 L434.5,740.9 L450.7,770.8 L470.9,794.9 L513.6,814.6 L538.3,818.3 L561.2,818.5 L593.5,802.4 L625.7,781.9 L634.8,768.9 L643.3,750.0 L650.4,729.8 L656.3,711.6 L656.8,708.7 L657.6,704.5 L658.5,699.7 L659.4,694.7 L660.2,690.3 L660.8,686.9 L661.2,684.8 L661.4,683.6 L661.6,682.9 L661.7,682.3 L661.8,681.5 L662.1,680.0 L662.5,677.9 L662.9,675.4 L663.3,672.6 L663.8,669.6 L664.3,666.6 L664.7,663.6 L665.1,660.6 L665.5,657.6 L665.9,654.5 L666.2,651.2 L666.6,647.8 L666.9,644.1 L667.2,640.1 L667.5,635.9 L667.8,631.5 L668.0,627.0 L668.2,622.5 L668.4,618.1 L668.5,613.8 L668.6,609.4 L668.6,605.0 L668.6,600.7 L668.6,596.3 L668.6,592.0 L668.6,587.5 L668.5,583.0 L668.4,578.4 L668.3,573.9 L668.1,569.8 L668.0,566.0 L667.9,562.9 L667.7,560.4 L667.5,558.1 L667.4,555.9 L667.2,553.3 L666.9,550.0 L666.6,546.0 L666.3,541.5 L665.9,536.7 L665.5,531.8 L665.1,526.8 L664.7,521.9 L664.2,517.1 L663.7,512.4 L663.2,507.6 L662.7,502.8 L662.1,498.0 L661.5,493.3 L660.9,488.7 L660.3,484.2 L659.7,479.7 L659.0,475.2 L658.3,470.6 L657.6,465.9 L656.8,461.0 L656.0,456.0 L655.1,450.9 L654.2,445.8 L653.3,440.8 L652.4,436.0 L651.4,431.2 L650.3,426.3 L649.2,421.5 L648.2,417.1 L647.2,413.2 L646.5,410.0 L646.0,408.0 L645.8,407.0 L645.7,406.6 L645.6,406.2 L645.4,405.3 L645.0,403.6 L644.4,400.9 L643.6,397.5 L642.7,393.8 L641.8,389.7 L640.8,385.6 L639.8,381.5 L638.8,377.4 L637.8,373.1 L636.7,368.7 L635.6,364.3 L634.5,359.9 L633.3,355.5 L632.1,351.2 L630.8,346.9 L629.5,342.5 L628.1,338.2 L626.8,333.8 L625.5,329.4 L624.2,324.9 L622.9,320.2 L621.6,315.5 L620.4,310.9 L619.0,306.4 L617.7,302.1 L616.3,297.9 L614.7,293.8 L613.2,289.8 L611.7,286.1 L610.3,282.8 L609.2,280.0 L608.4,278.0 L607.9,276.8 L607.5,275.9 L607.1,275.1 L606.7,274.0 L605.9,272.3 L604.9,270.0 L603.8,267.4 L602.6,264.6 L601.2,261.4 L599.7,257.9 L598.1,254.1 L596.2,249.6 L594.0,244.3 L591.7,238.7 L589.4,233.2 L587.3,228.3 L585.6,224.3 L584.4,221.6 L583.6,219.7 L583.0,218.4 L582.5,217.3 L581.9,216.0 L580.9,214.1 L579.6,211.6 L578.1,208.7 L576.5,205.6 L574.9,202.4 L573.2,199.4 L571.6,196.5 L570.0,193.8 L568.5,191.3 L566.9,188.8 L565.4,186.3 L563.8,183.9 L562.3,181.6 L560.8,179.3 L559.2,177.1 L557.7,174.9 L556.2,172.7 L554.6,170.6 L553.1,168.6 L551.5,166.5 L549.9,164.4 L548.2,162.4 L546.6,160.4 L545.1,158.8 L543.8,157.4 L542.6,156.4 L541.5,155.8 L540.6,155.3 L539.7,155.1 L539.0,154.9 L538.5,154.7Z" fill="rgba(255,255,85,0.12)" clip-path="url(#cb)"/>
<g font-size="24">
<text x="19.2" y="46.7">105<tspan dx="-0.4" dy="-0.9">°</tspan></text>
<text x="18.9" y="160.8">90<tspan dx="-0.4" dy="-0.9">°</tspan></text>
<text x="18.9" y="290.8">75<tspan dx="-0.4" dy="-0.9">°</tspan></text>
<text x="18.9" y="439.9">60<tspan dx="-0.4" dy="-0.9">°</tspan></text>
<text x="18.9" y="644.7">45<tspan dx="-0.4" dy="-0.9">°</tspan></text>
<text x="25.0" y="972.7">30<tspan dx="-0.4" dy="-0.9">°</tspan></text>
<text x="278.9" y="972.7">15<tspan dx="-0.4" dy="-0.9">°</tspan></text>
<text x="526.1" y="972.7">0<tspan dx="-0.4" dy="-0.9">°</tspan></text>
<text x="758.9" y="972.7">15<tspan dx="-0.4" dy="-0.9">°</tspan></text>
<text x="1012.1" y="972.7">30<tspan dx="-0.4" dy="-0.9">°</tspan></text>
<text x="1004.0" y="46.7">105<tspan dx="-0.4" dy="-0.9">°</tspan></text>
<text x="1017.7" y="160.8">90<tspan dx="-0.4" dy="-0.9">°</tspan></text>
<text x="1017.7" y="290.8">75<tspan dx="-0.4" dy="-0.9">°</tspan></text>
<text x="1017.7" y="439.9">60<tspan dx="-0.4" dy="-0.9">°</tspan></text>
<text x="1017.7" y="644.7">45<tspan dx="-0.4" dy="-0.9">°</tspan></text>
<text x="517" y="499.8">800</text>
<text x="509.2" y="667.8">1200</text>
</g>
<path d="M538.5,154.7 L537.9,154.9 L537.0,155.2 L536.0,155.5 L534.9,156.0 L533.7,156.6 L532.6,157.4 L531.5,158.4 L530.3,159.6 L529.1,161.0 L527.9,162.4 L526.6,164.1 L525.2,165.8 L523.8,167.7 L522.2,169.7 L520.7,171.8 L519.1,174.1 L517.5,176.4 L515.9,178.8 L514.4,181.3 L512.8,183.8 L511.2,186.5 L509.7,189.2 L508.1,191.9 L506.6,194.6 L505.0,197.4 L503.3,200.4 L501.7,203.4 L500.0,206.3 L498.6,209.0 L497.3,211.3 L496.3,213.1 L495.6,214.5 L495.0,215.6 L494.4,216.8 L493.7,218.2 L492.8,220.0 L491.6,222.4 L490.3,225.1 L488.9,228.0 L487.4,231.0 L486.0,234.1 L484.6,237.1 L483.3,240.0 L482.1,243.0 L480.9,245.9 L479.6,248.9 L478.4,251.9 L477.2,254.9 L476.0,257.9 L474.7,261.0 L473.4,264.1 L472.2,267.2 L470.9,270.3 L469.7,273.5 L468.4,276.8 L467.1,280.3 L465.7,283.8 L464.5,287.2 L463.3,290.2 L462.3,292.9 L461.5,294.9 L461.0,296.3 L460.6,297.4 L460.2,298.6 L459.7,300.0 L459.0,302.1 L458.1,304.9 L457.1,308.1 L456.0,311.7 L454.8,315.4 L453.6,319.2 L452.5,322.9 L451.4,326.5 L450.3,330.2 L449.2,333.8 L448.0,337.6 L447.0,341.3 L445.9,345.1 L444.9,348.9 L443.9,352.8 L443.0,356.7 L442.0,360.7 L441.1,364.6 L440.1,368.5 L439.1,372.5 L438.1,376.5 L437.0,380.5 L436.0,384.5 L435.1,388.3 L434.2,391.9 L433.4,395.1 L432.7,398.0 L432.1,400.8 L431.5,403.6 L430.8,406.6 L430.1,410.0 L429.3,413.8 L428.4,417.9 L427.5,422.3 L426.6,426.8 L425.7,431.3 L424.9,436.0 L424.1,440.8 L423.3,445.8 L422.5,450.9 L421.7,456.0 L421.0,461.0 L420.3,465.9 L419.7,470.6 L419.1,475.2 L418.6,479.7 L418.1,484.2 L417.6,488.7 L417.1,493.3 L416.6,498.1 L416.0,503.1 L415.5,508.2 L415.0,513.1 L414.5,517.7 L414.1,521.9 L413.7,525.4 L413.5,528.2 L413.2,530.7 L413.0,533.3 L412.7,536.3 L412.5,540.0 L412.3,544.7 L412.0,550.2 L411.8,556.2 L411.5,562.1 L411.3,567.7 L411.2,572.5 L411.1,576.4 L411.1,579.7 L411.0,582.7 L411.1,585.5 L411.1,588.5 L411.2,592.0 L411.3,596.0 L411.5,600.2 L411.7,604.6 L412.0,609.1 L412.2,613.6 L412.5,618.0 L412.8,622.4 L413.1,626.9 L413.4,631.5 L413.8,635.9 L414.1,640.1 L414.5,644.1 L414.9,647.9 L415.4,651.6 L415.9,655.1 L416.3,658.3 L416.7,661.2 L417.1,663.6 L417.3,665.3 L417.5,666.2 L417.6,666.7 L417.7,667.3 L417.9,668.3 L418.2,670.0 L418.6,672.6 L419.1,675.9 L419.6,679.5 L420.2,683.3 L420.9,687.2 L421.5,690.8 L422.2,694.3 L422.9,697.8 L423.6,701.3 L424.4,704.8 L425.2,708.2 L426.0,711.6 L426.8,715.1 L427.8,718.6 L428.7,722.1 L429.6,725.4 L430.4,728.5 L431.2,731.2 L431.9,733.5 L432.6,735.5 L433.2,737.3 L433.7,738.8 L434.2,740.0 L434.5,740.9 L450.7,770.8 L470.9,794.9 L513.6,814.6 L538.3,818.3 L561.2,818.5 L593.5,802.4 L625.7,781.9 L634.8,768.9 L643.3,750.0 L650.4,729.8 L656.3,711.6 L656.8,708.7 L657.6,704.5 L658.5,699.7 L659.4,694.7 L660.2,690.3 L660.8,686.9 L661.2,684.8 L661.4,683.6 L661.6,682.9 L661.7,682.3 L661.8,681.5 L662.1,680.0 L662.5,677.9 L662.9,675.4 L663.3,672.6 L663.8,669.6 L664.3,666.6 L664.7,663.6 L665.1,660.6 L665.5,657.6 L665.9,654.5 L666.2,651.2 L666.6,647.8 L666.9,644.1 L667.2,640.1 L667.5,635.9 L667.8,631.5 L668.0,627.0 L668.2,622.5 L668.4,618.1 L668.5,613.8 L668.6,609.4 L668.6,605.0 L668.6,600.7 L668.6,596.3 L668.6,592.0 L668.6,587.5 L668.5,583.0 L668.4,578.4 L668.3,573.9 L668.1,569.8 L668.0,566.0 L667.9,562.9 L667.7,560.4 L667.5,558.1 L667.4,555.9 L667.2,553.3 L666.9,550.0 L666.6,546.0 L666.3,541.5 L665.9,536.7 L665.5,531.8 L665.1,526.8 L664.7,521.9 L664.2,517.1 L663.7,512.4 L663.2,507.6 L662.7,502.8 L662.1,498.0 L661.5,493.3 L660.9,488.7 L660.3,484.2 L659.7,479.7 L659.0,475.2 L658.3,470.6 L657.6,465.9 L656.8,461.0 L656.0,456.0 L655.1,450.9 L654.2,445.8 L653.3,440.8 L652.4,436.0 L651.4,431.2 L650.3,426.3 L649.2,421.5 L648.2,417.1 L647.2,413.2 L646.5,410.0 L646.0,408.0 L645.8,407.0 L645.7,406.6 L645.6,406.2 L645.4,405.3 L645.0,403.6 L644.4,400.9 L643.6,397.5 L642.7,393.8 L641.8,389.7 L640.8,385.6 L639.8,381.5 L638.8,377.4 L637.8,373.1 L636.7,368.7 L635.6,364.3 L634.5,359.9 L633.3,355.5 L632.1,351.2 L630.8,346.9 L629.5,342.5 L628.1,338.2 L626.8,333.8 L625.5,329.4 L624.2,324.9 L622.9,320.2 L621.6,315.5 L620.4,310.9 L619.0,306.4 L617.7,302.1 L616.3,297.9 L614.7,293.8 L613.2,289.8 L611.7,286.1 L610.3,282.8 L609.2,280.0 L608.4,278.0 L607.9,276.8 L607.5,275.9 L607.1,275.1 L606.7,274.0 L605.9,272.3 L604.9,270.0 L603.8,267.4 L602.6,264.6 L601.2,261.4 L599.7,257.9 L598.1,254.1 L596.2,249.6 L594.0,244.3 L591.7,238.7 L589.4,233.2 L587.3,228.3 L585.6,224.3 L584.4,221.6 L583.6,219.7 L583.0,218.4 L582.5,217.3 L581.9,216.0 L580.9,214.1 L579.6,211.6 L578.1,208.7 L576.5,205.6 L574.9,202.4 L573.2,199.4 L571.6,196.5 L570.0,193.8 L568.5,191.3 L566.9,188.8 L565.4,186.3 L563.8,183.9 L562.3,181.6 L560.8,179.3 L559.2,177.1 L557.7,174.9 L556.2,172.7 L554.6,170.6 L553.1,168.6 L551.5,166.5 L549.9,164.4 L548.2,162.4 L546.6,160.4 L545.1,158.8 L543.8,157.4 L542.6,156.4 L541.5,155.8 L540.6,155.3 L539.7,155.1 L539.0,154.9 L538.5,154.7" fill="none" stroke="#e03428" stroke-opacity="0.7" stroke-width="0.85" stroke-linejoin="round"/>
<path d="M538.5,154.7 L537.9,154.9 L537.1,155.2 L536.1,155.5 L535.0,156.0 L533.8,156.6 L532.7,157.4 L531.6,158.4 L530.4,159.6 L529.3,161.0 L528.0,162.4 L526.7,164.1 L525.4,165.8 L524.0,167.7 L522.5,169.7 L520.9,171.8 L519.3,174.1 L517.7,176.4 L516.2,178.8 L514.7,181.3 L513.2,183.8 L511.7,186.5 L510.2,189.2 L508.7,191.9 L507.2,194.6 L505.7,197.4 L504.1,200.4 L502.5,203.4 L501.0,206.3 L499.6,209.0 L498.4,211.3 L497.5,213.1 L496.9,214.5 L496.5,215.6 L496.0,216.8 L495.4,218.2 L494.6,220.0 L493.5,222.4 L492.2,225.1 L490.8,228.0 L489.3,231.0 L487.9,234.1 L486.5,237.1 L485.2,240.0 L484.0,243.0 L482.7,245.9 L481.5,248.9 L480.2,251.9 L479.0,254.9 L477.8,257.9 L476.5,261.0 L475.3,264.1 L474.1,267.2 L472.8,270.3 L471.6,273.5 L470.3,276.8 L469.0,280.3 L467.6,283.8 L466.3,287.2 L465.2,290.2 L464.2,292.9 L463.5,294.9 L463.0,296.3 L462.7,297.4 L462.4,298.6 L461.9,300.0 L461.3,302.1 L460.4,304.9 L459.5,308.1 L458.4,311.7 L457.2,315.4 L456.1,319.2 L455.0,322.9 L453.9,326.5 L452.8,330.2 L451.8,333.8 L450.7,337.6 L449.6,341.3 L448.6,345.1 L447.6,348.9 L446.7,352.8 L445.8,356.7 L444.8,360.7 L443.9,364.6 L443.0,368.5 L442.0,372.5 L441.0,376.5 L440.0,380.5 L439.1,384.5 L438.1,388.3 L437.3,391.9 L436.6,395.1 L436.0,398.0 L435.4,400.8 L434.8,403.6 L434.3,406.6 L433.6,410.0 L432.9,413.8 L432.1,417.9 L431.3,422.3 L430.4,426.8 L429.6,431.3 L428.8,436.0 L428.0,440.8 L427.2,445.8 L426.4,450.9 L425.6,456.0 L424.9,461.0 L424.2,465.9 L423.6,470.6 L423.0,475.2 L422.5,479.7 L422.0,484.2 L421.5,488.7 L421.0,493.3 L420.5,498.0 L420.1,502.8 L419.7,507.6 L419.3,512.4 L418.9,517.1 L418.6,521.9 L418.3,526.7 L418.0,531.5 L417.7,536.3 L417.5,541.1 L417.3,545.6 L417.1,550.0 L417.0,554.1 L416.9,558.0 L416.9,561.8 L416.8,565.4 L416.8,569.0 L416.8,572.5 L416.8,575.8 L416.7,579.0 L416.7,582.0 L416.7,585.1 L416.7,588.4 L416.8,592.0 L416.9,596.0 L417.0,600.2 L417.1,604.6 L417.3,609.1 L417.5,613.6 L417.7,618.0 L418.0,622.4 L418.3,626.9 L418.6,631.5 L419.0,635.9 L419.3,640.1 L419.7,644.1 L420.1,647.8 L420.4,651.2 L420.8,654.5 L421.1,657.6 L421.5,660.6 L421.9,663.6 L422.3,666.6 L422.8,669.6 L423.2,672.6 L423.7,675.4 L424.1,677.9 L424.5,680.0 L424.8,681.5 L424.9,682.4 L425.1,683.1 L425.3,683.8 L425.5,685.0 L426.0,686.9 L426.6,689.7 L427.4,693.2 L428.3,697.2 L429.3,701.3 L430.2,705.3 L431.2,709.0 L432.1,712.4 L433.1,715.8 L434.0,719.1 L435.0,722.3 L436.0,725.4 L437.1,728.5 L438.3,731.7 L439.6,735.0 L441.0,738.2 L442.3,741.2 L443.4,743.7 L444.2,745.5 L453.0,762.0 L473.5,783.4 L493.5,802.9 L513.6,814.6 L538.3,818.3 L561.2,821.1 L584.6,818.0 L606.9,806.8 L627.3,784.0 L634.8,768.9 L643.3,750.0 L650.4,729.8 L656.3,711.6 L656.8,708.7 L657.6,704.5 L658.5,699.7 L659.4,694.7 L660.2,690.3 L660.8,686.9 L661.1,684.8 L661.2,683.6 L661.3,682.9 L661.3,682.3 L661.3,681.5 L661.5,680.0 L661.8,677.9 L662.3,675.4 L662.7,672.6 L663.2,669.6 L663.7,666.6 L664.1,663.6 L664.5,660.6 L664.8,657.6 L665.2,654.5 L665.5,651.2 L665.7,647.8 L666.0,644.1 L666.2,640.1 L666.4,635.9 L666.6,631.5 L666.7,627.0 L666.8,622.5 L666.9,618.1 L666.9,613.8 L667.0,609.4 L666.9,605.0 L666.9,600.7 L666.8,596.3 L666.7,592.0 L666.5,587.5 L666.3,583.0 L666.1,578.4 L665.9,573.9 L665.6,569.8 L665.4,566.0 L665.2,562.9 L665.0,560.4 L664.8,558.1 L664.6,555.9 L664.4,553.3 L664.1,550.0 L663.8,546.0 L663.5,541.5 L663.2,536.7 L662.8,531.8 L662.5,526.8 L662.1,521.9 L661.7,517.1 L661.3,512.4 L660.9,507.6 L660.5,502.8 L660.0,498.0 L659.5,493.3 L658.9,488.7 L658.3,484.2 L657.7,479.7 L657.0,475.2 L656.3,470.6 L655.6,465.9 L654.9,461.0 L654.2,456.0 L653.5,450.9 L652.7,445.8 L651.9,440.8 L651.1,436.0 L650.1,431.2 L649.1,426.3 L647.9,421.5 L646.9,417.1 L645.9,413.2 L645.2,410.0 L644.8,408.0 L644.6,407.0 L644.5,406.6 L644.5,406.2 L644.4,405.3 L644.0,403.6 L643.4,400.9 L642.7,397.5 L641.8,393.8 L640.9,389.7 L640.0,385.6 L639.0,381.5 L638.0,377.4 L637.0,373.1 L636.0,368.7 L634.9,364.3 L633.8,359.9 L632.6,355.5 L631.4,351.2 L630.2,346.9 L628.9,342.5 L627.6,338.2 L626.3,333.8 L625.0,329.4 L623.7,324.9 L622.5,320.2 L621.2,315.5 L619.9,310.9 L618.6,306.4 L617.3,302.1 L615.9,297.9 L614.4,293.8 L612.9,289.8 L611.4,286.1 L610.1,282.8 L609.0,280.0 L608.2,278.0 L607.8,276.8 L607.4,275.9 L607.1,275.1 L606.6,274.0 L605.9,272.3 L604.9,270.0 L603.8,267.4 L602.6,264.6 L601.2,261.4 L599.7,257.9 L598.1,254.1 L596.2,249.6 L594.0,244.3 L591.7,238.7 L589.4,233.2 L587.3,228.3 L585.6,224.3 L584.4,221.6 L583.6,219.7 L583.0,218.4 L582.5,217.3 L581.9,216.0 L580.9,214.1 L579.6,211.6 L578.1,208.7 L576.5,205.6 L574.9,202.4 L573.2,199.4 L571.6,196.5 L570.0,193.8 L568.5,191.3 L566.9,188.8 L565.4,186.3 L563.8,183.9 L562.3,181.6 L560.8,179.3 L559.2,177.1 L557.7,174.9 L556.2,172.7 L554.6,170.6 L553.1,168.6 L551.5,166.5 L549.9,164.4 L548.2,162.4 L546.6,160.4 L545.1,158.8 L543.8,157.4 L542.6,156.4 L541.5,155.8 L540.6,155.3 L539.7,155.1 L539.0,154.9 L538.5,154.7" fill="none" stroke="#3030c0" stroke-opacity="0.85" stroke-width="0.85" stroke-linejoin="round"/>
<path d="M538.5,154.5 L535,153.9 L531,153.4" fill="none" stroke="#e03428" stroke-opacity="0.7" stroke-width="0.85"/>
<path d="M545.8,153.4 L538.6,154.5 L542.7,148.9" fill="none" stroke="#3030c0" stroke-opacity="0.85" stroke-width="0.85"/>
<rect x="4.1" y="6.1" width="1.8" height="987.9" fill="#a8a8a8"/>
<rect x="4.1" y="6.1" width="1067" height="1.7" fill="#a8a8a8"/>
<rect x="1070.9" y="6.5" width="1.1" height="987.5" fill="#000"/>
<rect x="4.5" y="992.9" width="1067.5" height="1.1" fill="#000"/>
<text transform="translate(20.6 1030.7) scale(1.06 1)" font-size="27.2">cd/klm</text>
<text class="s" x="943.8" y="1027" font-size="29">η</text>
<text class="s" transform="translate(968 1027.1) scale(0.93 0.74)" font-size="29">=</text>
<text transform="translate(994.6 1030.8) scale(0.97 1)" font-size="29.6" stroke="#000" stroke-width="0.5">97%</text>
<rect x="15.3" y="1050" width="69.9" height="1" fill="#e0808a"/>
<rect x="15.3" y="1051" width="69.9" height="1" fill="#ffe4e8"/>
<text x="90.8" y="1059.6" font-size="24">C0 - C180</text>
<rect x="233.8" y="1050" width="70.2" height="1" fill="#9088c8"/>
<rect x="233.8" y="1051" width="70.2" height="1" fill="#e8e4fb"/>
<text x="309.5" y="1059.6" font-size="24">C90 - C270</text>
</svg>
</body></html>
